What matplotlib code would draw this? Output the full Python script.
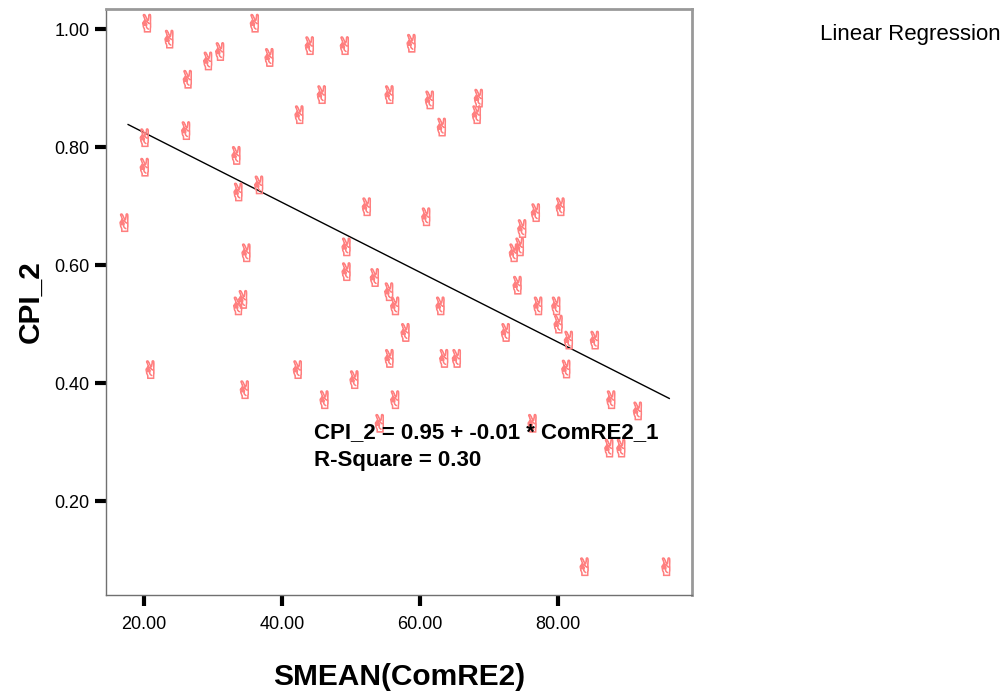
import numpy as np
import matplotlib
matplotlib.use("Agg")
import matplotlib.pyplot as plt

# Data
smean_comre2 = [20.39, 23.62, 29.23, 30.97, 26.28, 35.99, 38.12, 43.96, 49.03, 58.70,
                45.70, 55.51, 42.46, 61.35, 68.45, 68.16, 63.09, 26.04, 20.04, 33.33,
                20.04, 36.62, 33.62, 17.10, 52.22, 60.83, 76.71, 80.29, 74.74, 74.39,
                73.52, 49.28, 34.78, 49.28, 53.38, 55.46, 74.06, 34.30, 33.58, 56.33,
                62.90, 77.06, 79.67, 80.00, 57.83, 72.36, 81.49, 85.26, 55.51, 63.43,
                65.26, 20.87, 42.22, 81.12, 50.43, 34.54, 46.09, 56.33, 87.64, 91.49,
                54.10, 76.23, 87.35, 89.09, 83.77, 95.61]
cpi_2 = [1.010, 0.983, 0.946, 0.962, 0.915, 1.010, 0.952, 0.972, 0.972, 0.976,
         0.889, 0.889, 0.855, 0.880, 0.883, 0.855, 0.834, 0.828, 0.816, 0.786,
         0.766, 0.736, 0.724, 0.672, 0.699, 0.682, 0.689, 0.699, 0.662, 0.631,
         0.621, 0.631, 0.621, 0.589, 0.579, 0.555, 0.566, 0.542, 0.531, 0.531,
         0.531, 0.531, 0.531, 0.500, 0.486, 0.486, 0.473, 0.473, 0.442, 0.442,
         0.442, 0.423, 0.423, 0.424, 0.406, 0.389, 0.372, 0.372, 0.372, 0.353,
         0.332, 0.332, 0.290, 0.290, 0.089, 0.089]

# Fitted regression line as drawn in the reference
fit_intercept = 0.943
fit_slope = -0.00592
fit_x_range = [17.7, 96.1]

x_ticks = [20, 40, 60, 80]
x_tick_labels = ["20.00", "40.00", "60.00", "80.00"]
y_ticks = [0.2, 0.4, 0.6, 0.8, 1.0]
y_tick_labels = ["0.20", "0.40", "0.60", "0.80", "1.00"]

equation_text = "CPI_2 = 0.95 + -0.01 * ComRE2_1"
rsq_text = "R-Square = 0.30"

plt.rcParams['font.family'] = ['Liberation Sans', 'DejaVu Sans']

fig = plt.figure(figsize=(10.06, 6.92), dpi=100)
ax = fig.add_axes([0.1054, 0.1402, 0.5825, 0.8468])

x = np.array(smean_comre2)
y = np.array(cpi_2)

ax.scatter(x, y, marker="$\u270C$", s=170, facecolors="none",
           edgecolors="#ff7f7f", linewidths=0.6, zorder=3)

xs = np.linspace(fit_x_range[0], fit_x_range[1], 100)
ax.plot(xs, fit_intercept + fit_slope * xs, color="black", lw=1.0, zorder=2)

ax.set_xlim(14.5, 99.4)
ax.set_ylim(0.041, 1.034)

ax.set_xticks(x_ticks)
ax.set_xticklabels(x_tick_labels)
ax.set_yticks(y_ticks)
ax.set_yticklabels(y_tick_labels)
ax.tick_params(axis="both", length=8, width=3, color="black",
               labelsize=13, direction="out", pad=4)
ax.tick_params(axis="x", pad=7)

for side in ["left", "bottom"]:
    ax.spines[side].set_color("#707070")
    ax.spines[side].set_linewidth(1.0)
for side in ["top", "right"]:
    ax.spines[side].set_color("#999999")
    ax.spines[side].set_linewidth(2.0)

ax.set_xlabel("SMEAN(ComRE2)", fontsize=21.5, fontweight="bold", labelpad=22)
ax.set_ylabel("CPI_2", fontsize=21.5, fontweight="bold", labelpad=7)

ax.text(0.355, 0.278, equation_text, transform=ax.transAxes,
        fontsize=16, fontweight="bold", va="center", ha="left")
ax.text(0.355, 0.229, rsq_text, transform=ax.transAxes,
        fontsize=16, fontweight="bold", va="center", ha="left")

fig.text(0.815, 0.95, "Linear Regression", fontsize=16, ha="left", va="center")

fig.savefig("out.png", dpi=100)
